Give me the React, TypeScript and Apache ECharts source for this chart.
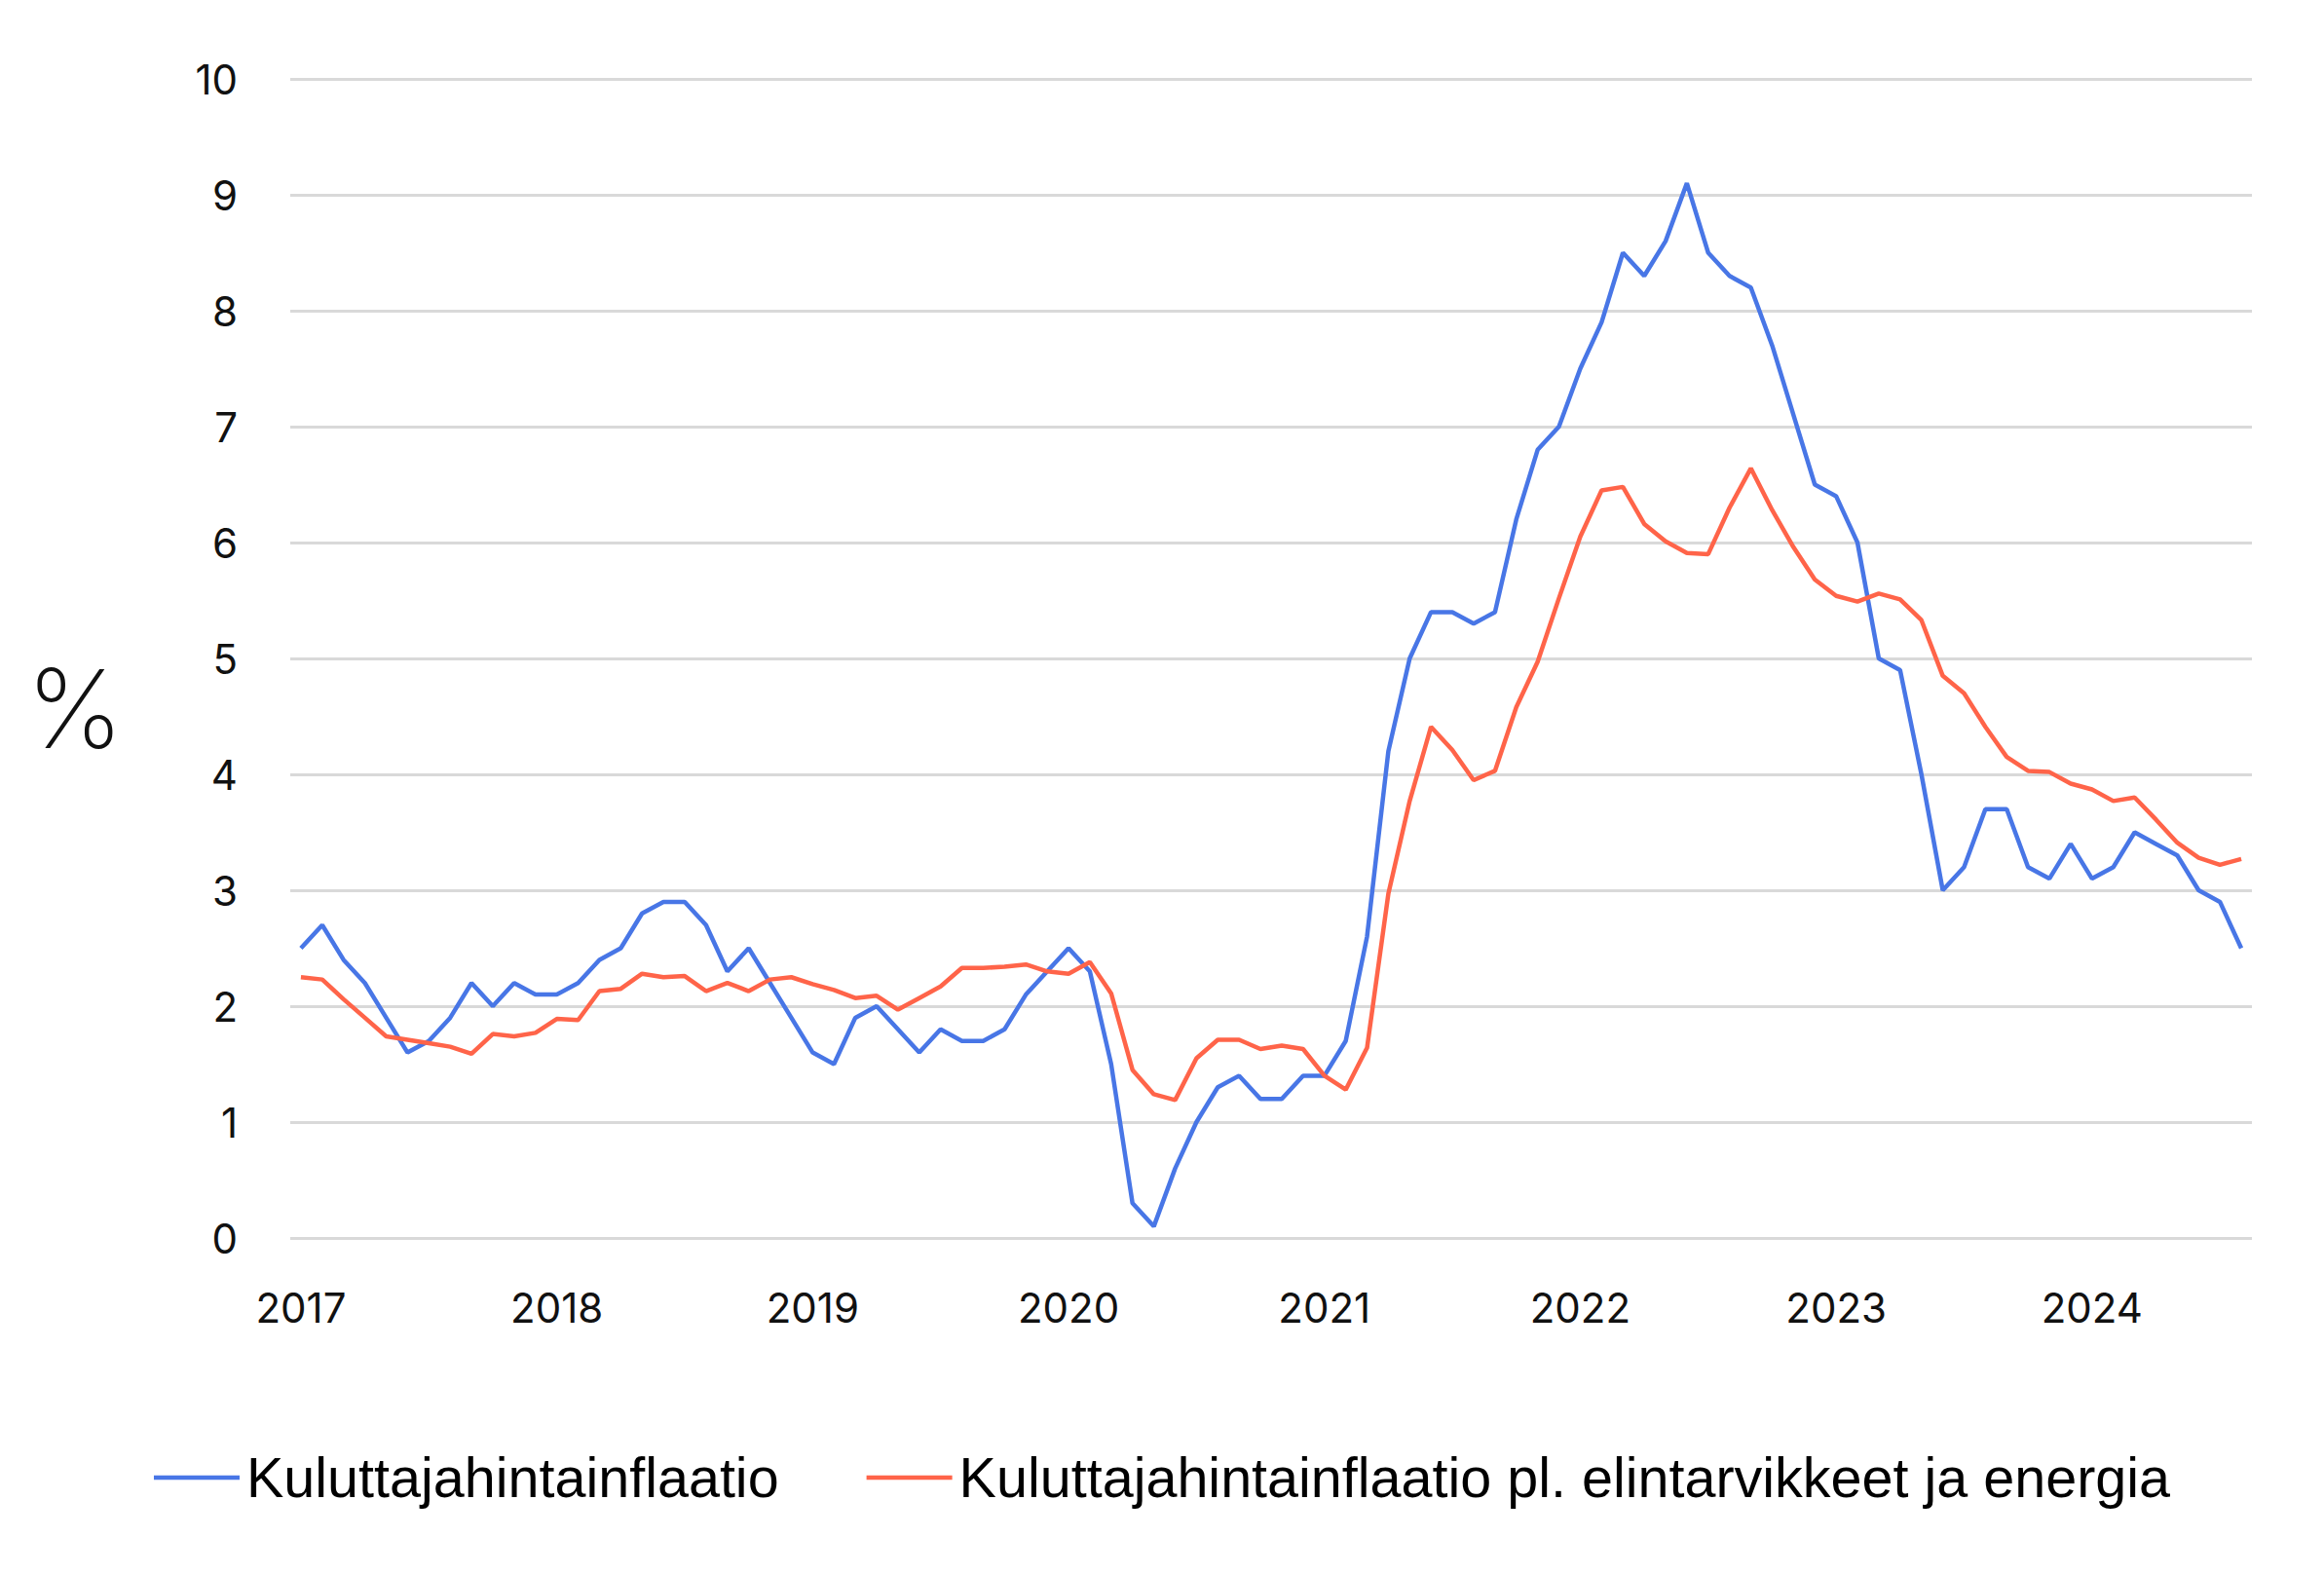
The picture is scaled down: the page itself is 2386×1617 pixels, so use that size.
import React, { useEffect, useRef } from "react";
import * as echarts from "echarts";

const years = ["2017", "2018", "2019", "2020", "2021", "2022", "2023", "2024"];
const monthsInLastYear = 8;

const cpi = [
  2.5, 2.7, 2.4, 2.2, 1.9, 1.6, 1.7, 1.9, 2.2, 2.0, 2.2, 2.1,
  2.1, 2.2, 2.4, 2.5, 2.8, 2.9, 2.9, 2.7, 2.3, 2.5, 2.2, 1.9,
  1.6, 1.5, 1.9, 2.0, 1.8, 1.6, 1.8, 1.7, 1.7, 1.8, 2.1, 2.3,
  2.5, 2.3, 1.5, 0.3, 0.1, 0.6, 1.0, 1.3, 1.4, 1.2, 1.2, 1.4,
  1.4, 1.7, 2.6, 4.2, 5.0, 5.4, 5.4, 5.3, 5.4, 6.2, 6.8, 7.0,
  7.5, 7.9, 8.5, 8.3, 8.6, 9.1, 8.5, 8.3, 8.2, 7.7, 7.1, 6.5,
  6.4, 6.0, 5.0, 4.9, 4.0, 3.0, 3.2, 3.7, 3.7, 3.2, 3.1, 3.4,
  3.1, 3.2, 3.5, 3.4, 3.3, 3.0, 2.9, 2.5,
];

const core = [
  2.25, 2.23, 2.06, 1.9, 1.74, 1.71, 1.68, 1.65, 1.59, 1.76, 1.74, 1.77,
  1.89, 1.88, 2.13, 2.15, 2.28, 2.25, 2.26, 2.13, 2.2, 2.13, 2.23, 2.25,
  2.19, 2.14, 2.07, 2.09, 1.97, 2.07, 2.17, 2.33, 2.33, 2.34, 2.36, 2.3,
  2.28, 2.38, 2.11, 1.45, 1.24, 1.19, 1.55, 1.71, 1.71, 1.63, 1.66, 1.63,
  1.4, 1.28, 1.64, 2.97, 3.77, 4.41, 4.21, 3.95, 4.03, 4.58, 4.97, 5.52,
  6.05, 6.45, 6.48, 6.16, 6.01, 5.91, 5.9, 6.3, 6.64, 6.28, 5.96, 5.68,
  5.54, 5.49, 5.56, 5.51, 5.33, 4.85, 4.7, 4.41, 4.15, 4.03, 4.02, 3.92,
  3.87, 3.77, 3.8, 3.61, 3.41, 3.28, 3.22, 3.27,
];

const seriesNames = [
  "Kuluttajahintainflaatio",
  "Kuluttajahintainflaatio pl. elintarvikkeet ja energia",
];

const months: string[] = [];
years.forEach((y, yi) => {
  const n = yi === years.length - 1 ? monthsInLastYear : 12;
  for (let m = 1; m <= n; m++) months.push(`${y}-${String(m).padStart(2, "0")}`);
});

const BLUE = "#4876E6";
const RED = "#FF6449";
const FONT = "Inter, Roboto, sans-serif";

export default function App() {
  const ref = useRef<HTMLDivElement>(null);
  useEffect(() => {
    if (!ref.current) return;
    const chart = echarts.init(ref.current, null, { renderer: "svg" });
    chart.setOption({
      animation: false,
      backgroundColor: "#ffffff",
      grid: { left: 298, right: 74, top: 81, bottom: 346, containLabel: false },
      graphic: [
        {
          type: "text",
          x: 77,
          y: 727,
          style: {
            text: "%",
            font: `200 112px ${FONT}`,
            fill: "#111",
            align: "center",
            verticalAlign: "middle",
          },
        },
      ],
      legend: {
        bottom: 66,
        left: "center",
        itemWidth: 88,
        itemHeight: 4.5,
        itemGap: 90,
        icon: "rect",
        textStyle: {
          fontFamily: "Liberation Sans, Arial, sans-serif",
          fontSize: 57.5,
          color: "#000",
          padding: [0, 0, 0, 2],
        },
        data: seriesNames,
      },
      xAxis: {
        type: "category",
        data: months,
        boundaryGap: true,
        axisLine: { show: false },
        axisTick: { show: false },
        axisLabel: {
          interval: (idx: number) => idx % 12 === 0,
          formatter: (v: string) => v.slice(0, 4),
          fontFamily: FONT,
          fontSize: 42,
          color: "#111",
          margin: 50,
        },
        splitLine: { show: false },
      },
      yAxis: {
        type: "value",
        min: 0,
        max: 10,
        interval: 1,
        axisLine: { show: false },
        axisTick: { show: false },
        axisLabel: {
          fontFamily: FONT,
          fontSize: 42,
          color: "#111",
          margin: 54,
        },
        splitLine: { lineStyle: { color: "#d9d9d9", width: 3 } },
      },
      series: [
        {
          name: seriesNames[0],
          type: "line",
          data: cpi,
          showSymbol: false,
          symbol: "none",
          lineStyle: { color: BLUE, width: 4.5 },
          itemStyle: { color: BLUE },
        },
        {
          name: seriesNames[1],
          type: "line",
          data: core,
          showSymbol: false,
          symbol: "none",
          lineStyle: { color: RED, width: 4.5 },
          itemStyle: { color: RED },
        },
      ],
    });
    return () => chart.dispose();
  }, []);
  return (
    <div
      ref={ref}
      style={{ position: "fixed", left: 0, top: 0, width: 2386, height: 1617 }}
    />
  );
}
